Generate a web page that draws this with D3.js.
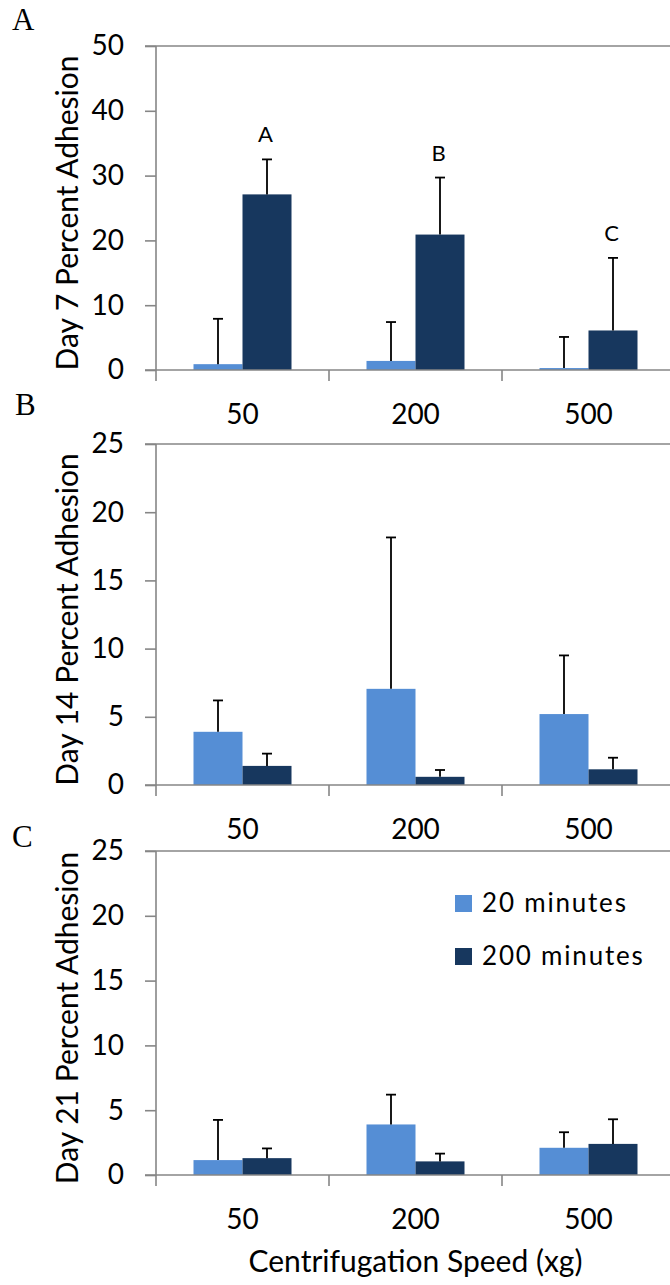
<!DOCTYPE html>
<html>
<head>
<meta charset="utf-8">
<script src="https://cdn.jsdelivr.net/npm/d3@7"></script>
<style>
  html, body { margin: 0; padding: 0; background: #fff; }
  svg { display: block; }
  text { font-family: Lato, "Open Sans", sans-serif; fill: #000; }
</style>
</head>
<body>
<svg id="chart" width="670" height="1285"></svg>
<script>
// Centrifugation speeds (xg) and centrifugation durations
const categories = ["50", "200", "500"];
const seriesNames = ["20 minutes", "200 minutes"];
const seriesColors = ["#558ED5", "#17375E"];

// Day 7 percent adhesion: means and upper error (SD) per series
const day7Mean20 = [0.9, 1.4, 0.3];
const day7Mean200 = [27.1, 20.9, 6.1];
const day7Err20 = [7.0, 6.0, 4.8];
const day7Err200 = [5.4, 8.8, 11.2];
const day7Letters = ["A", "B", "C"];
const day7Ticks = [0, 10, 20, 30, 40, 50];

// Day 14 percent adhesion
const day14Mean20 = [3.9, 7.05, 5.2];
const day14Mean200 = [1.4, 0.6, 1.15];
const day14Err20 = [2.3, 11.1, 4.3];
const day14Err200 = [0.9, 0.5, 0.85];
const day14Ticks = [0, 5, 10, 15, 20, 25];

// Day 21 percent adhesion
const day21Mean20 = [1.15, 3.9, 2.1];
const day21Mean200 = [1.3, 1.05, 2.4];
const day21Err20 = [3.1, 2.3, 1.2];
const day21Err200 = [0.75, 0.6, 1.9];
const day21Ticks = [0, 5, 10, 15, 20, 25];

const xTitle = "Centrifugation Speed (xg)";

const panels = [
  { letter: "A", title: "Day 7 Percent Adhesion", means: [day7Mean20, day7Mean200],
    errs: [day7Err20, day7Err200], ticks: day7Ticks, sig: day7Letters,
    top: 46, zero: 370, letterX: 12, letterY: 30 },
  { letter: "B", title: "Day 14 Percent Adhesion", means: [day14Mean20, day14Mean200],
    errs: [day14Err20, day14Err200], ticks: day14Ticks, sig: null,
    top: 444, zero: 785, letterX: 15, letterY: 415 },
  { letter: "C", title: "Day 21 Percent Adhesion", means: [day21Mean20, day21Mean200],
    errs: [day21Err20, day21Err200], ticks: day21Ticks, sig: null,
    top: 851, zero: 1175, letterX: 12, letterY: 847, legend: true, xTitle: true }
];

const svg = d3.select("#chart");
const plotLeft = 156, plotRight = 675;
const axisColor = "#868686";

const x0 = d3.scaleBand().domain(categories).range([plotLeft, plotRight]).padding(0);
const groupPad = 37.5;
const x1 = d3.scaleBand().domain(seriesNames)
  .range([groupPad, x0.bandwidth() - groupPad]).padding(0);

panels.forEach(p => {
  const g = svg.append("g");
  const y = d3.scaleLinear()
    .domain([0, d3.max(p.ticks)])
    .range([p.zero, p.top]);

  // Panel letter
  g.append("text")
    .attr("x", p.letterX).attr("y", p.letterY)
    .style("font-family", "'Liberation Serif', 'Times New Roman', serif")
    .style("font-size", "31px")
    .text(p.letter);

  // Top border of plot area
  g.append("line")
    .attr("x1", plotLeft - 11).attr("x2", plotRight)
    .attr("y1", y(d3.max(p.ticks))).attr("y2", y(d3.max(p.ticks)))
    .attr("stroke", axisColor).attr("stroke-width", 1.6);

  // Y axis
  const yAxis = d3.axisLeft(y).tickValues(p.ticks).tickSize(11).tickPadding(21)
    .tickFormat(d3.format("d"));
  const ya = g.append("g").attr("transform", `translate(${plotLeft},0)`).call(yAxis);
  ya.select(".domain").remove();
  ya.selectAll(".tick line").attr("stroke", axisColor).attr("stroke-width", 1.6);
  ya.selectAll(".tick text")
    .style("font-family", "Lato, sans-serif")
    .style("font-size", "28px")
    .attr("fill", "#000");
  g.append("line")
    .attr("x1", plotLeft).attr("x2", plotLeft)
    .attr("y1", y(d3.max(p.ticks))).attr("y2", p.zero)
    .attr("stroke", axisColor).attr("stroke-width", 1.6);

  // Bars
  p.means.forEach((vals, si) => {
    g.selectAll(null).data(vals).enter().append("rect")
      .attr("x", (d, i) => x0(categories[i]) + x1(seriesNames[si]))
      .attr("width", x1.bandwidth())
      .attr("y", d => y(d))
      .attr("height", d => y(0) - y(d))
      .attr("fill", seriesColors[si]);
  });

  // Upper error bars
  p.means.forEach((vals, si) => {
    vals.forEach((v, i) => {
      const cx = x0(categories[i]) + x1(seriesNames[si]) + x1.bandwidth() / 2;
      const yTop = y(v + p.errs[si][i]);
      g.append("line")
        .attr("x1", cx).attr("x2", cx)
        .attr("y1", y(v)).attr("y2", yTop)
        .attr("stroke", "#000").attr("stroke-width", 1.8);
      g.append("line")
        .attr("x1", cx - 5).attr("x2", cx + 5)
        .attr("y1", yTop).attr("y2", yTop)
        .attr("stroke", "#000").attr("stroke-width", 1.8);
    });
  });

  // Significance letters above the 200-minute bars
  if (p.sig) {
    p.sig.forEach((s, i) => {
      const cx = x0(categories[i]) + x1(seriesNames[1]) + x1.bandwidth() / 2 - 1.5;
      g.append("text")
        .attr("x", cx).attr("y", y(p.means[1][i] + p.errs[1][i]) - 17)
        .attr("text-anchor", "middle")
        .style("font-size", "22px")
        .text(s);
    });
  }

  // X axis (baseline with category dividers)
  const xAxis = d3.axisBottom(x0).tickSize(0).tickPadding(0);
  const xa = g.append("g").attr("transform", `translate(0,${p.zero})`).call(xAxis);
  xa.select(".domain").remove();
  xa.selectAll(".tick text")
    .attr("y", 54).attr("dy", 0)
    .style("font-family", "Lato, sans-serif")
    .style("font-size", "28px")
    .attr("fill", "#000");
  g.append("line")
    .attr("x1", plotLeft - 11).attr("x2", plotRight)
    .attr("y1", p.zero).attr("y2", p.zero)
    .attr("stroke", axisColor).attr("stroke-width", 1.6);
  const dividers = categories.map(c => x0(c)).concat([plotRight]);
  g.selectAll(null).data(dividers).enter().append("line")
    .attr("x1", d => d).attr("x2", d => d)
    .attr("y1", p.zero).attr("y2", p.zero + 11)
    .attr("stroke", axisColor).attr("stroke-width", 1.6);

  // Y axis title
  g.append("text")
    .attr("transform", `translate(78,${(p.top + p.zero) / 2 + 5}) rotate(-90)`)
    .attr("text-anchor", "middle")
    .style("font-size", "30px")
    .text(p.title);

  if (p.legend) {
    const lg = g.append("g");
    seriesNames.forEach((name, i) => {
      lg.append("rect")
        .attr("x", 455).attr("y", 895 + i * 53)
        .attr("width", 17).attr("height", 17)
        .attr("fill", seriesColors[i]);
      lg.append("text")
        .attr("x", 482).attr("y", 912 + i * 53)
        .style("font-size", "26px")
        .style("letter-spacing", "1.8px")
        .text(name);
    });
  }

  if (p.xTitle) {
    g.append("text")
      .attr("x", (plotLeft + plotRight) / 2).attr("y", 1272)
      .attr("text-anchor", "middle")
      .style("font-size", "30px")
      .text(xTitle);
  }
});
</script>
</body>
</html>
